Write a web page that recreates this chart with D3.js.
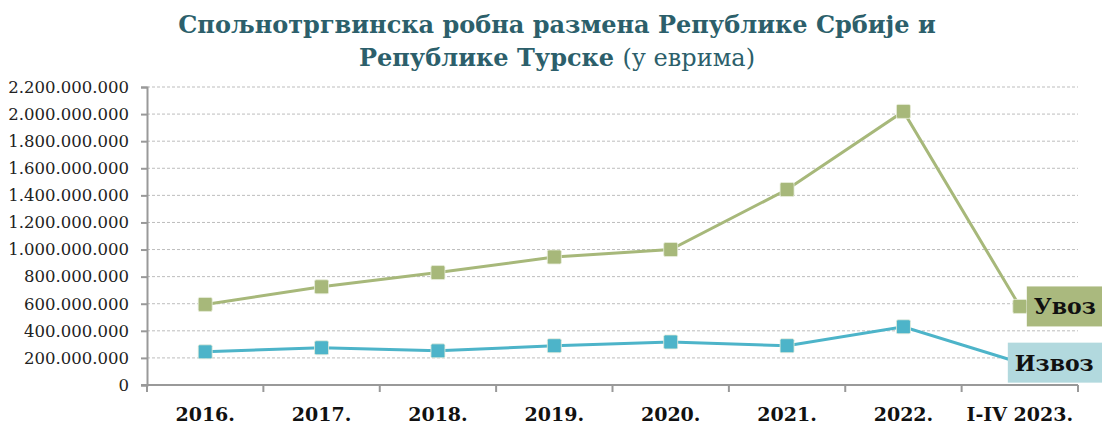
<!DOCTYPE html>
<html>
<head>
<meta charset="utf-8">
<script src="https://cdn.jsdelivr.net/npm/d3@7"></script>
<style>
  body { margin: 0; background: #fff; }
  svg text { font-family: "DejaVu Serif", serif; }
</style>
</head>
<body>
<div id="chart"></div>
<script>
// data
const years = ["2016.", "2017.", "2018.", "2019.", "2020.", "2021.", "2022.", "I-IV 2023."];
const uvoz = [595e6, 725e6, 830e6, 945e6, 1000e6, 1443e6, 2020e6, 580e6];
const izvoz = [245e6, 275e6, 252e6, 290e6, 318e6, 290e6, 430e6, 165e6];
const yTicks = [0, 200e6, 400e6, 600e6, 800e6, 1000e6, 1200e6, 1400e6, 1600e6, 1800e6, 2000e6, 2200e6];

const width = 1102, height = 430;
const margin = {top: 87, right: 24, bottom: 45, left: 147};

const svg = d3.select("#chart")
    .append("svg")
    .attr("width", width)
    .attr("height", height);

const x = d3.scaleBand()
    .domain(years)
    .range([margin.left, width - margin.right]);

const y = d3.scaleLinear()
    .domain([0, 2200e6])
    .range([height - margin.bottom, margin.top]);

const fmt = d3.formatLocale({decimal: ",", thousands: ".", grouping: [3], currency: ["", ""]}).format(",");

// title
const title = svg.append("text")
    .attr("text-anchor", "middle")
    .attr("fill", "#2c5f6b")
    .style("font-size", "24px")
    .style("font-weight", "bold");
title.append("tspan")
    .attr("x", 557).attr("y", 33)
    .text("Спољнотргвинска робна размена Републике Србије и");
const t2 = title.append("tspan")
    .attr("x", 557).attr("y", 66);
t2.append("tspan").text("Републике Турске ");
t2.append("tspan").style("font-weight", "normal").text("(у еврима)");

// gridlines
svg.append("g")
    .selectAll("line")
    .data(yTicks.filter(d => d > 0))
    .join("line")
    .attr("x1", margin.left)
    .attr("x2", width - margin.right)
    .attr("y1", d => y(d))
    .attr("y2", d => y(d))
    .attr("stroke", "#bdbdbd")
    .attr("stroke-width", 1)
    .attr("stroke-dasharray", "3,2");

// y axis
const yAxis = svg.append("g")
    .attr("transform", `translate(${margin.left},0)`)
    .call(d3.axisLeft(y).tickValues(yTicks).tickFormat(fmt).tickSize(6).tickPadding(12));
yAxis.select(".domain").attr("stroke", "#999").attr("stroke-width", 2);
yAxis.selectAll(".tick line").attr("stroke", "#999").attr("stroke-width", 2);
yAxis.selectAll(".tick text")
    .attr("fill", "#222")
    .style("font-size", "16.5px")
    .style("font-family", "DejaVu Serif, serif");

// x axis with ticks at band edges
const xAxisY = y(0);
const xg = svg.append("g");
xg.append("line")
    .attr("x1", margin.left - 6)
    .attr("x2", width - margin.right)
    .attr("y1", xAxisY).attr("y2", xAxisY)
    .attr("stroke", "#999").attr("stroke-width", 2);
xg.selectAll("line.tk")
    .data(years.map(d => x(d)).concat([x(years[years.length - 1]) + x.bandwidth()]))
    .join("line")
    .classed("tk", true)
    .attr("x1", d => d).attr("x2", d => d)
    .attr("y1", xAxisY).attr("y2", xAxisY + 7)
    .attr("stroke", "#999").attr("stroke-width", 2);
xg.selectAll("text")
    .data(years)
    .join("text")
    .attr("x", d => x(d) + x.bandwidth() / 2)
    .attr("y", 421)
    .attr("text-anchor", "middle")
    .attr("fill", "#111")
    .style("font-size", "19px")
    .style("font-weight", "bold")
    .text(d => d);

// series
const series = [
    {name: "Увоз", values: uvoz, color: "#a7b87a", box: "#aab97e", dx: 7},
    {name: "Извоз", values: izvoz, color: "#4db4c9", box: "#b2d9de", dx: -12}
];

const px = d => x(d) + x.bandwidth() / 2;
const line = d3.line()
    .x((d, i) => px(years[i]))
    .y(d => y(d));

for (const s of series) {
    const g = svg.append("g");
    g.append("path")
        .datum(s.values)
        .attr("d", line)
        .attr("fill", "none")
        .attr("stroke", s.color)
        .attr("stroke-width", 3);
    g.selectAll("rect")
        .data(s.values)
        .join("rect")
        .attr("x", (d, i) => px(years[i]) - 7)
        .attr("y", d => y(d) - 7)
        .attr("width", 14)
        .attr("height", 14)
        .attr("rx", 1.5)
        .attr("fill", s.color)
        .attr("stroke", "#e8eddc")
        .attr("stroke-width", 0.8);
}

// end labels
for (const s of series) {
    const last = s.values.length - 1;
    const lx = px(years[last]) + s.dx;
    const ly = y(s.values[last]);
    const g = svg.append("g");
    g.append("rect")
        .attr("x", lx)
        .attr("y", ly - 20)
        .attr("width", width - lx)
        .attr("height", 40)
        .attr("fill", s.box);
    g.append("text")
        .attr("x", lx + 7)
        .attr("y", ly + 8)
        .attr("fill", "#111")
        .style("font-size", "22px")
        .style("font-weight", "bold")
        .text(s.name);
}
</script>
</body>
</html>
